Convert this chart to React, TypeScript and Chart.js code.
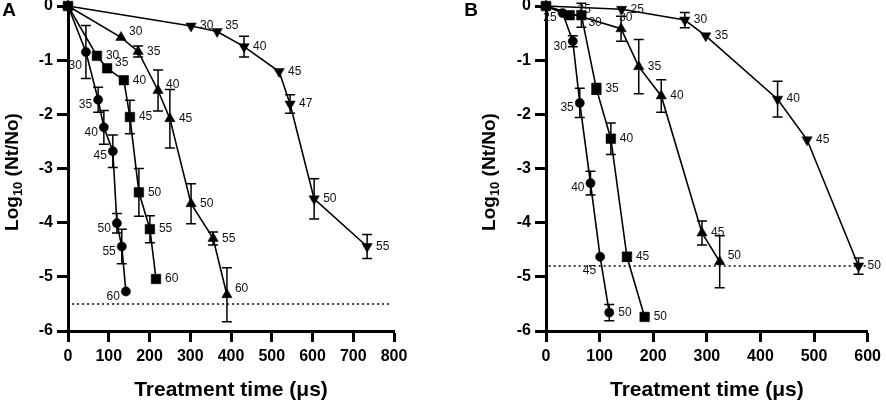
import { useEffect, useRef } from "react";
import { Chart, registerables } from "chart.js";

Chart.register(...registerables);

const FONT = "Arial, 'Liberation Sans', Helvetica, sans-serif";

// ---- Panel A ----
const A_CIRCLE_TIME = [0, 44, 74, 88, 110, 120, 132, 142];
const A_CIRCLE_LOG = [0, -0.85, -1.73, -2.24, -2.68, -4.01, -4.44, -5.27];
const A_CIRCLE_SD = [0, 0.49, 0.23, 0.31, 0.3, 0.18, 0.32, 0];
const A_CIRCLE_TEMP = ["", "30", "35", "40", "45", "50", "55", "60"];

const A_SQUARE_TIME = [0, 71, 96, 137, 152, 174, 201, 216];
const A_SQUARE_LOG = [0, -0.92, -1.15, -1.37, -2.05, -3.44, -4.12, -5.04];
const A_SQUARE_SD = [0, 0, 0, 0, 0.31, 0.44, 0.25, 0];
const A_SQUARE_TEMP = ["", "30", "35", "40", "45", "50", "55", "60"];

const A_UP_TIME = [0, 130, 172, 221, 250, 302, 356, 390];
const A_UP_LOG = [0, -0.58, -0.84, -1.56, -2.08, -3.65, -4.29, -5.33];
const A_UP_SD = [0, 0, 0.1, 0.38, 0.54, 0.37, 0.12, 0.5];
const A_UP_TEMP = ["", "30", "35", "40", "45", "50", "55", "60"];

const A_DOWN_TIME = [0, 302, 366, 432, 518, 545, 604, 734];
const A_DOWN_LOG = [0, -0.37, -0.47, -0.75, -1.21, -1.81, -3.56, -4.44];
const A_DOWN_SD = [0, 0, 0, 0.19, 0, 0.17, 0.37, 0.22];
const A_DOWN_TEMP = ["", "30", "35", "40", "45", "47", "50", "55"];

const A_LIMIT = -5.5;
const A_LIMIT_SPAN = [10, 795];

// ---- Panel B ----
const B_CIRCLE_TIME = [0, 31, 50, 63, 83, 101, 118];
const B_CIRCLE_LOG = [0, -0.13, -0.65, -1.79, -3.27, -4.63, -5.66];
const B_CIRCLE_SD = [0, 0, 0.1, 0.27, 0.22, 0, 0.15];
const B_CIRCLE_TEMP = ["", "25", "30", "35", "40", "45", "50"];

const B_SQUARE_TIME = [0, 44, 66, 94, 121, 151, 184];
const B_SQUARE_LOG = [0, -0.17, -0.17, -1.53, -2.45, -4.63, -5.74];
const B_SQUARE_SD = [0, 0.05, 0.22, 0.1, 0.29, 0.08, 0];
const B_SQUARE_TEMP = ["", "25", "30", "35", "40", "45", "50"];

const B_UP_TIME = [0, 140, 173, 215, 291, 324];
const B_UP_LOG = [0, -0.42, -1.12, -1.66, -4.19, -4.72];
const B_UP_SD = [0, 0.23, 0.5, 0.3, 0.22, 0.48];
const B_UP_TEMP = ["", "30", "35", "40", "45", "50"];

const B_DOWN_TIME = [0, 141, 259, 298, 432, 487, 583];
const B_DOWN_LOG = [0, -0.06, -0.26, -0.55, -1.72, -2.47, -4.8];
const B_DOWN_SD = [0, 0, 0.14, 0, 0.33, 0, 0.15];
const B_DOWN_TEMP = ["", "25", "30", "35", "40", "45", "50"];

const B_LIMIT = -4.8;
const B_LIMIT_SPAN = [5, 600];

// label placement codes (layout only)
const PLACE_A = {
  circle: ["", "lb", "l", "l", "l", "l", "l", "l"],
  square: ["", "r", "ru", "r", "r", "r", "r", "r"],
  up: ["", "ru", "r", "ru", "r", "r", "r", "ru"],
  down: ["", "r", "ru", "r", "r", "r", "r", "r"],
};
const PLACE_B = {
  circle: ["", "l", "l", "l", "l", "lb", "r"],
  square: ["", "ru", "rd", "r", "r", "r", "r"],
  up: ["", "u", "r", "r", "r", "ru"],
  down: ["", "r", "r", "r", "r", "r", "r"],
};

type Marker = "circle" | "rect" | "triangle" | "down";

function series(time: number[], log: number[], sd: number[], temps: string[], place: string[], marker: Marker) {
  const radius = marker === "circle" ? 4.6 : marker === "rect" ? 6.8 : 6;
  return {
    data: time.map((t, i) => ({ x: t, y: log[i] })),
    sd,
    temps,
    place,
    showLine: true,
    borderColor: "#000",
    borderWidth: 1.6,
    backgroundColor: "#000",
    pointStyle: marker === "down" ? "triangle" : marker,
    pointRotation: marker === "down" ? 180 : 0,
    pointRadius: radius,
    pointBackgroundColor: "#000",
    pointBorderColor: "#000",
    pointBorderWidth: 0.5,
    clip: false,
  };
}

function limitLine(y: number, span: number[]) {
  return {
    data: span.map((x) => ({ x, y })),
    showLine: true,
    borderColor: "#000",
    borderWidth: 1.5,
    borderDash: [2, 3],
    pointRadius: 0,
    clip: false,
  };
}

const errorBars = {
  id: "errorBars",
  afterDatasetsDraw(chart: any) {
    const { ctx } = chart;
    const y = chart.scales.y;
    ctx.save();
    ctx.strokeStyle = "#000";
    ctx.lineWidth = 1.5;
    chart.data.datasets.forEach((ds: any, di: number) => {
      if (!ds.sd) return;
      const meta = chart.getDatasetMeta(di);
      ds.sd.forEach((e: number, i: number) => {
        if (!e) return;
        const p = meta.data[i];
        const v = ds.data[i].y;
        const top = y.getPixelForValue(v + e);
        const bot = y.getPixelForValue(v - e);
        ctx.beginPath();
        ctx.moveTo(p.x, top);
        ctx.lineTo(p.x, bot);
        ctx.moveTo(p.x - 5, top);
        ctx.lineTo(p.x + 5, top);
        ctx.moveTo(p.x - 5, bot);
        ctx.lineTo(p.x + 5, bot);
        ctx.stroke();
      });
    });
    ctx.restore();
  },
};

const pointLabels = {
  id: "pointLabels",
  afterDatasetsDraw(chart: any) {
    const { ctx } = chart;
    ctx.save();
    ctx.font = `12px ${FONT}`;
    ctx.fillStyle = "#111";
    ctx.textBaseline = "middle";
    chart.data.datasets.forEach((ds: any, di: number) => {
      if (!ds.temps) return;
      const meta = chart.getDatasetMeta(di);
      ds.temps.forEach((t: string, i: number) => {
        if (!t) return;
        const p = meta.data[i];
        const code = ds.place[i];
        let dx = 9;
        let dy = 0;
        let align: CanvasTextAlign = "left";
        if (code === "ru") { dx = 8; dy = -6; }
        if (code === "rd") { dx = 7; dy = 7; }
        if (code === "u") { dx = -2; dy = -11; }
        if (code === "l") { dx = -6; dy = 5; align = "right"; }
        if (code === "lb") { dx = -4; dy = 14; align = "right"; }
        ctx.textAlign = align;
        ctx.fillText(t, p.x + dx, p.y + dy);
      });
    });
    ctx.restore();
  },
};

function titles(letter: string, letterX: number, yTitleX: number) {
  return {
    id: "titles" + letter,
    afterDraw(chart: any) {
      const { ctx, chartArea } = chart;
      ctx.save();
      ctx.fillStyle = "#000";
      ctx.textBaseline = "middle";
      // panel letter
      ctx.font = `bold 19px ${FONT}`;
      ctx.textAlign = "center";
      ctx.fillText(letter, letterX, 31);
      // x title
      ctx.font = `bold 21px ${FONT}`;
      ctx.fillText("Treatment time (\u03bcs)", (chartArea.left + chartArea.right) / 2, 410);
      // y title with subscript
      const big = `bold 19px ${FONT}`;
      const small = `bold 13px ${FONT}`;
      ctx.font = big;
      const w1 = ctx.measureText("Log").width;
      const w3 = ctx.measureText(" (Nt/No)").width;
      ctx.font = small;
      const w2 = ctx.measureText("10").width;
      ctx.translate(yTitleX, 192);
      ctx.rotate(-Math.PI / 2);
      ctx.textAlign = "left";
      let x = -(w1 + w2 + w3) / 2;
      ctx.font = big;
      ctx.fillText("Log", x, 0);
      x += w1;
      ctx.font = small;
      ctx.fillText("10", x, 5);
      x += w2;
      ctx.font = big;
      ctx.fillText(" (Nt/No)", x, 0);
      ctx.restore();
    },
  };
}

type PanelDef = {
  left: number;
  width: number;
  axisLeft: number;
  padRight: number;
  xMax: number;
  letter: string;
  letterX: number;
  yTitleX: number;
  datasets: any[];
};

const PANELS: PanelDef[] = [
  {
    left: 0,
    width: 440,
    axisLeft: 68,
    padRight: 46,
    xMax: 800,
    letter: "A",
    letterX: 9,
    yTitleX: 13,
    datasets: [
      series(A_SQUARE_TIME, A_SQUARE_LOG, A_SQUARE_SD, A_SQUARE_TEMP, PLACE_A.square, "rect"),
      series(A_CIRCLE_TIME, A_CIRCLE_LOG, A_CIRCLE_SD, A_CIRCLE_TEMP, PLACE_A.circle, "circle"),
      series(A_UP_TIME, A_UP_LOG, A_UP_SD, A_UP_TEMP, PLACE_A.up, "triangle"),
      series(A_DOWN_TIME, A_DOWN_LOG, A_DOWN_SD, A_DOWN_TEMP, PLACE_A.down, "down"),
      limitLine(A_LIMIT, A_LIMIT_SPAN),
    ],
  },
  {
    left: 440,
    width: 446,
    axisLeft: 106,
    padRight: 14,
    xMax: 600,
    letter: "B",
    letterX: 31,
    yTitleX: 50,
    datasets: [
      series(B_SQUARE_TIME, B_SQUARE_LOG, B_SQUARE_SD, B_SQUARE_TEMP, PLACE_B.square, "rect"),
      series(B_CIRCLE_TIME, B_CIRCLE_LOG, B_CIRCLE_SD, B_CIRCLE_TEMP, PLACE_B.circle, "circle"),
      series(B_UP_TIME, B_UP_LOG, B_UP_SD, B_UP_TEMP, PLACE_B.up, "triangle"),
      series(B_DOWN_TIME, B_DOWN_LOG, B_DOWN_SD, B_DOWN_TEMP, PLACE_B.down, "down"),
      limitLine(B_LIMIT, B_LIMIT_SPAN),
    ],
  },
];

function Panel({ panel }: { panel: PanelDef }) {
  const canvasRef = useRef<HTMLCanvasElement | null>(null);

  useEffect(() => {
    if (!canvasRef.current) return;
    const tickFont = { family: FONT, size: 16, weight: "bold" as const };
    const chart = new Chart(canvasRef.current, {
      type: "scatter",
      data: { datasets: panel.datasets },
      options: {
        animation: false,
        responsive: true,
        maintainAspectRatio: false,
        layout: { padding: { left: 0, right: panel.padRight, top: 26, bottom: 0 } },
        plugins: { legend: { display: false }, tooltip: { enabled: false } },
        scales: {
          x: {
            type: "linear",
            min: 0,
            max: panel.xMax,
            ticks: { stepSize: 100, font: tickFont, color: "#000", padding: 5 },
            grid: { drawOnChartArea: false, drawTicks: true, tickLength: 11, tickWidth: 3, tickColor: "#000" },
            border: { display: true, width: 3, color: "#000" },
            afterFit: (s: any) => {
              s.height = 72;
            },
          },
          y: {
            min: -6,
            max: 0,
            ticks: { stepSize: 1, font: tickFont, color: "#000", padding: 4 },
            grid: { drawOnChartArea: false, drawTicks: true, tickLength: 11, tickWidth: 3, tickColor: "#000" },
            border: { display: true, width: 3, color: "#000" },
            afterFit: (s: any) => {
              s.width = panel.axisLeft;
            },
          },
        },
      } as any,
      plugins: [errorBars, pointLabels, titles(panel.letter, panel.letterX, panel.yTitleX)],
    });
    return () => chart.destroy();
  }, [panel]);

  return (
    <div style={{ position: "absolute", left: panel.left, top: -20, width: panel.width, height: 423 }}>
      <canvas ref={canvasRef} />
    </div>
  );
}

export default function App() {
  return (
    <div style={{ position: "absolute", left: 0, top: 0, width: 886, height: 403, background: "#fff", overflow: "hidden" }}>
      {PANELS.map((p) => (
        <Panel key={p.letter} panel={p} />
      ))}
    </div>
  );
}
